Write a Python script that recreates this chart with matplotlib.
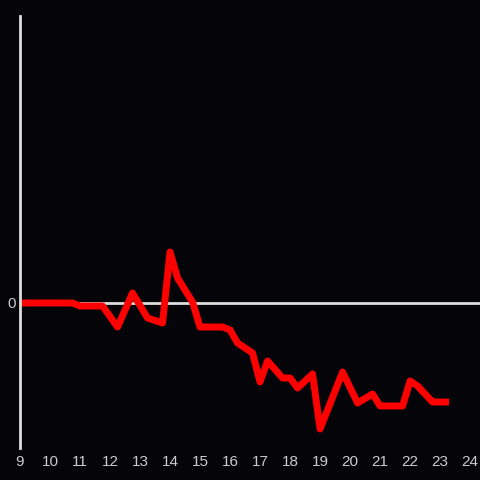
import matplotlib
matplotlib.use("Agg")
import matplotlib.pyplot as plt

# hora do dia e valor (desvio)
horas = [9, 10.75, 11, 11.75, 12.25, 12.75, 13.25, 13.75, 14, 14.25, 14.75, 15,
         15.75, 16, 16.25, 16.75, 17, 17.25, 17.75, 18, 18.25, 18.75, 19, 19.75,
         20.25, 20.75, 21, 21.75, 22, 22.25, 22.75, 23.3]
valores = [0, 0, -0.3, -0.3, -2.4, 1.0, -1.5, -2.0, 5.1, 2.5, 0.1, -2.4,
           -2.4, -2.7, -4.0, -5.0, -7.9, -5.8, -7.5, -7.5, -8.5, -7.1, -12.6, -6.9,
           -10.0, -9.1, -10.3, -10.3, -7.8, -8.3, -9.9, -9.9]
xticks = list(range(9, 25))

fundo = "#050408"
cinza = "#dddddd"

fig = plt.figure(figsize=(4.8, 4.8), dpi=100, facecolor=fundo)
ax = fig.add_axes([20/480, 32/480, 460/480, 432/480])
ax.set_facecolor(fundo)

ax.axhline(0, color=cinza, linewidth=2, zorder=1)
ax.plot(horas, valores, color="#ff0000", linewidth=5, solid_joinstyle="round",
        solid_capstyle="butt", zorder=2)

ax.set_xlim(9, 24.33)
ax.set_ylim(-14.5, 28.7)
ax.set_xticks(xticks)
ax.set_yticks([0])
ax.tick_params(length=0, colors="#cccccc", labelsize=11)
ax.tick_params(axis="x", pad=5)
ax.tick_params(axis="y", pad=3)
for lab in ax.get_xticklabels() + ax.get_yticklabels():
    lab.set_family("Liberation Sans")

for s in ["top", "right", "bottom"]:
    ax.spines[s].set_visible(False)
ax.spines["left"].set_color(cinza)
ax.spines["left"].set_linewidth(2)

fig.savefig("out.png", dpi=100, facecolor=fundo)
